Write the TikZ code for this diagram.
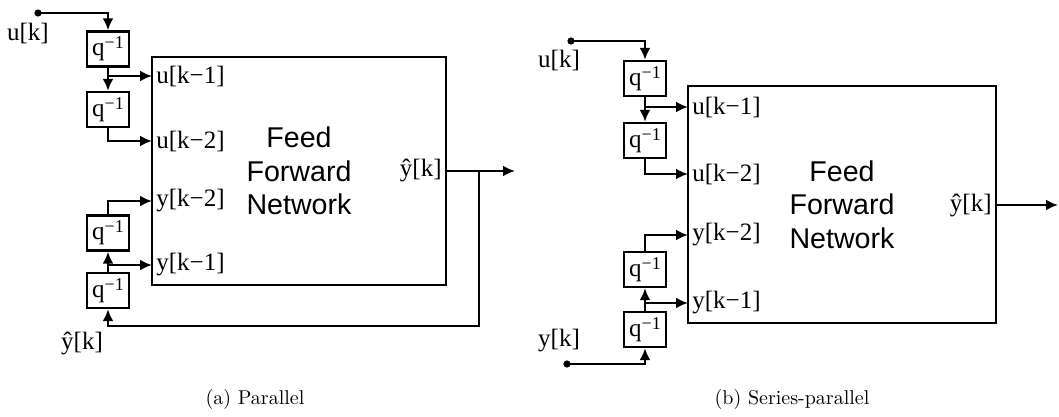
\documentclass[tikz,border=0pt]{standalone}
\usepackage{fontspec}
\usepackage{tikz}
\usetikzlibrary{arrows.meta}
\newfontfamily\serifrm{Liberation Serif}
\newfontfamily\sansrm{Liberation Sans}
\tikzset{>={Latex[length=6pt,width=5.5pt]}}
\tikzset{
  delay/.style={draw, line width=1.2pt, minimum width=21pt, minimum height=17.5pt, inner sep=0pt, font=\serifrm\fontsize{12.5}{13}\selectfont},
  sig/.style={font=\serifrm\fontsize{12.5}{13}\selectfont, inner sep=2pt},
  ffnbox/.style={draw, line width=1.2pt, align=center, font=\sansrm\fontsize{14.3}{16.7}\selectfont},
  subcap/.style={font=\fontsize{10}{12}\selectfont},
  wire/.style={line width=1.2pt},
}
\newcommand{\qinv}{q\raisebox{0.6ex}{\fontsize{9}{9}\selectfont −1}}

\begin{document}
\begin{tikzpicture}[x=0.5pt, y=-0.5pt]
    \useasboundingbox (0,0) rectangle (1059,417);

    % (a) parallel
    \begin{scope}
        \node[ffnbox, minimum width=147pt, minimum height=114pt] (ffna) at (299,171) {Feed\\Forward\\Network};
        \node[delay] (da1) at (108,49) {\qinv};
        \node[delay] (da2) at (108,109.5) {\qinv};
        \node[delay] (da3) at (108,233) {\qinv};
        \node[delay] (da4) at (108,290.5) {\qinv};
        \node[sig, anchor=west] (lua1) at (152,76) {u[k−1]};
        \node[sig, anchor=west] (lua2) at (152,141) {u[k−2]};
        \node[sig, anchor=west] (lya2) at (152,201) {y[k−2]};
        \node[sig, anchor=west] (lya1) at (152,265) {y[k−1]};
        \node[sig, anchor=east] (yha) at (446,171) {ŷ[k]};
        \node[sig] (ua) at (28,34) {u[k]};
        \node[sig] (yfa) at (82,343) {ŷ[k]};
        \coordinate (uina) at (38,13);
        \coordinate (outa) at (515,171);
        \coordinate (fba) at (479,171);
        \coordinate (fbca) at (108,326);
        \fill (uina) circle (1.8pt);
        \draw[wire, ->] (uina) -| (da1.north);
        \draw[wire, ->] (da1) -- (da2);
        \draw[wire, ->] (da1.south |- lua1) -- (lua1.west);
        \draw[wire, ->] (da2.south) |- (lua2.west);
        \draw[wire, ->] (da3.north) |- (lya2.west);
        \draw[wire, ->] (da4) -- (da3);
        \draw[wire, ->] (da4.north |- lya1) -- (lya1.west);
        \draw[wire, ->] (yha.east) -- (outa);
        \draw[wire, ->] (fba) |- (fbca) -- (da4.south);
        \node[subcap] (capa) at (255,399) {(a) Parallel};
    \end{scope}

    % (b) series-parallel
    \begin{scope}
        \node[ffnbox, minimum width=154pt, minimum height=118.5pt] (ffnb) at (842,204.5) {Feed\\Forward\\Network};
        \node[delay] (db1) at (645,78.5) {\qinv};
        \node[delay] (db2) at (645,140.5) {\qinv};
        \node[delay] (db3) at (645,269.5) {\qinv};
        \node[delay] (db4) at (645,329.5) {\qinv};
        \node[sig, anchor=west] (lub1) at (688,107) {u[k−1]};
        \node[sig, anchor=west] (lub2) at (688,174) {u[k−2]};
        \node[sig, anchor=west] (lyb2) at (688,235) {y[k−2]};
        \node[sig, anchor=west] (lyb1) at (688,303) {y[k−1]};
        \node[sig, anchor=east] (yhb) at (996,205) {ŷ[k]};
        \node[sig] (ub) at (559,60) {u[k]};
        \node[sig] (yb) at (559,341) {y[k]};
        \coordinate (uinb) at (571,41);
        \coordinate (yinb) at (567,364);
        \coordinate (outb) at (1058,205);
        \fill (uinb) circle (1.8pt);
        \fill (yinb) circle (1.8pt);
        \draw[wire, ->] (uinb) -| (db1.north);
        \draw[wire, ->] (db1) -- (db2);
        \draw[wire, ->] (db1.south |- lub1) -- (lub1.west);
        \draw[wire, ->] (db2.south) |- (lub2.west);
        \draw[wire, ->] (db3.north) |- (lyb2.west);
        \draw[wire, ->] (db4) -- (db3);
        \draw[wire, ->] (db4.north |- lyb1) -- (lyb1.west);
        \draw[wire, ->] (yinb) -| (db4.south);
        \draw[wire, ->] (yhb.east) -- (outb);
        \node[subcap] (capb) at (792,399) {(b) Series-parallel};
    \end{scope}

\end{tikzpicture}
\end{document}
